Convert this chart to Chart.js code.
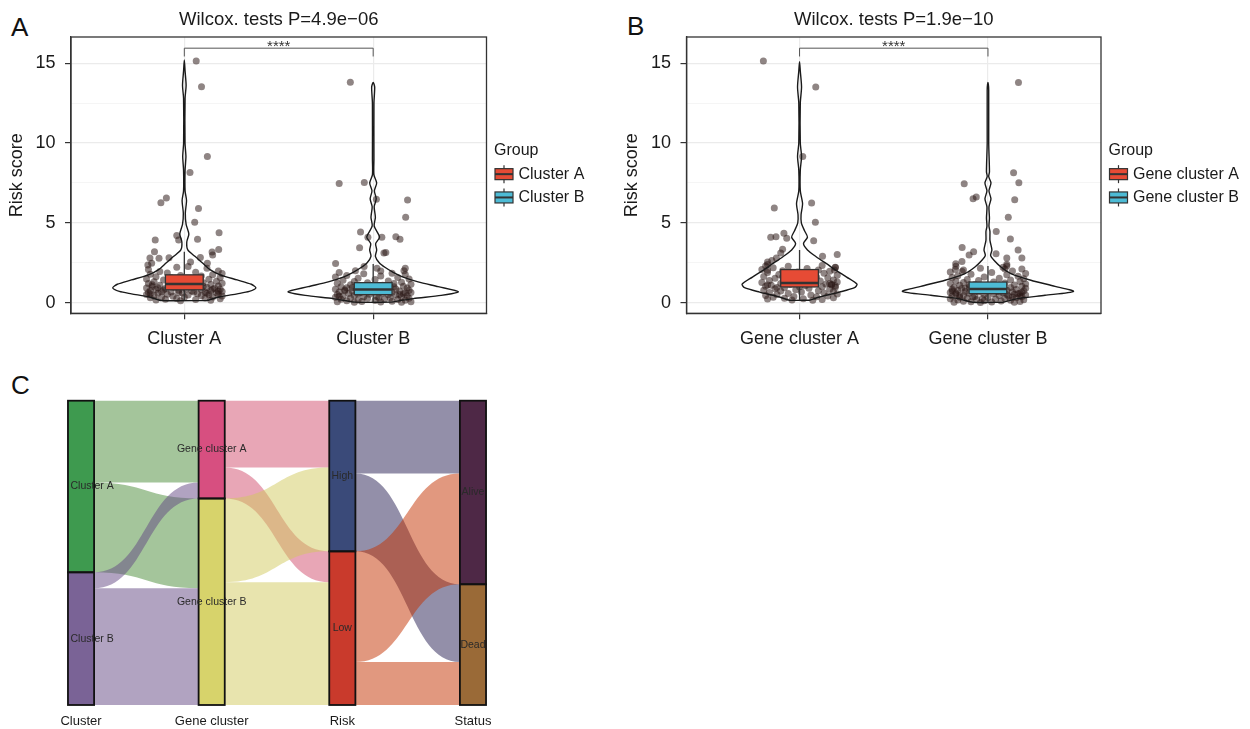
<!DOCTYPE html>
<html lang="en">
<head>
<meta charset="utf-8">
<title>Risk score by cluster and alluvial plot</title>
<script src="https://cdn.jsdelivr.net/npm/chart.js@4.4.1/dist/chart.umd.min.js"></script>
<style>
  body { margin: 0; background: #fff; width: 1250px; height: 729px; position: relative; overflow: hidden;
         font-family: "Liberation Sans", Arial, sans-serif; }
  .panel { position: absolute; }
  .tag { position: absolute; font-size: 26px; line-height: 1; color: #111; }
</style>
</head>
<body>
<div class="tag" style="left:11px;top:14px">A</div>
<div class="tag" style="left:627px;top:13px">B</div>
<div class="tag" style="left:11px;top:372px">C</div>
<div class="panel" style="left:0;top:0"><canvas id="chartA" width="600" height="360" style="width:600px;height:360px"></canvas></div>
<div class="panel" style="left:615px;top:0"><canvas id="chartB" width="635" height="360" style="width:635px;height:360px"></canvas></div>
<div class="panel" style="left:0;top:380px"><canvas id="chartC" width="560" height="349" style="width:560px;height:349px"></canvas></div>
<script>
Chart.defaults.font.family = '"Liberation Sans", Arial, sans-serif';
Chart.defaults.color = '#1a1a1a';
Chart.defaults.animation = false;

// ---------- panels A and B : risk score ----------
const clusterGroups = ['Cluster A', 'Cluster B'];
const geneGroups = ['Gene cluster A', 'Gene cluster B'];
const groupColors = ['#E64B35', '#4DBBD5'];
const yTickValues = [0, 2.5, 5, 7.5, 10, 12.5, 15];

// boxplot: [lower whisker, Q1, median, Q3, upper whisker]
const boxClusterA = [0.15, 0.8, 1.17, 1.74, 3.18];
const boxClusterB = [0.02, 0.5, 0.82, 1.25, 2.42];
const boxGeneA = [0.15, 0.98, 1.23, 2.07, 3.3];
const boxGeneB = [0.01, 0.56, 0.85, 1.29, 2.3];

// significance bracket: [tick end, bracket height]
const bracketA = [15.42, 15.94];
const bracketB = [15.42, 15.94];

// violin outline, top to bottom: [risk score, half width]
const violinClusterA = [[15.2,0],[14.5,0.004],[13.6,0.0095],[12.8,0.004],[10,0.0037],[9.15,0.0085],[8.3,0.004],[7,0.004],[6.4,0.0117],[5.6,0.0053],[4.9,0.0095],[4.3,0.024],[3.8,0.013],[3.3,0.0185],[2.9,0.056],[2.5,0.095],[2.05,0.138],[1.74,0.19],[1.42,0.28],[1.15,0.355],[0.92,0.379],[0.7,0.344],[0.55,0.28],[0.35,0.185],[0.13,0.12]];
const violinClusterB = [[13.8,0],[13.5,0.008],[12.5,0.004],[9,0.004],[8,0.004],[7.5,0.0185],[7,0.0064],[6.5,0.016],[6,0.0053],[5.35,0.0117],[4.8,0.0053],[4.1,0.034],[3.7,0.013],[3.3,0.0185],[2.9,0.0117],[2.5,0.032],[2.2,0.064],[1.9,0.106],[1.6,0.159],[1.3,0.238],[1.0,0.344],[0.68,0.451],[0.45,0.36],[0.25,0.212],[0.03,0.095]];
const violinGeneA = [[15.1,0],[14.5,0.004],[13.5,0.0106],[12.5,0.004],[10,0.004],[9.16,0.0106],[8.3,0.004],[7,0.004],[6.2,0.016],[5.5,0.008],[5,0.0095],[4.5,0.0265],[4.1,0.042],[3.7,0.021],[3.3,0.042],[2.86,0.09],[2.44,0.143],[2.0,0.196],[1.6,0.25],[1.15,0.305],[0.94,0.292],[0.66,0.212],[0.35,0.106],[0.15,0.053]];
const violinGeneB = [[13.8,0],[13.3,0.004],[10,0.004],[8.2,0.008],[7.9,0.004],[7.5,0.016],[7,0.0053],[6.5,0.016],[6,0.0053],[5.3,0.008],[4.8,0.0053],[4.45,0.0106],[3.9,0.0106],[3.3,0.021],[2.96,0.014],[2.65,0.032],[2.23,0.069],[1.82,0.122],[1.4,0.228],[1.02,0.356],[0.7,0.454],[0.46,0.303],[0.25,0.159],[0.02,0.08]];

// jittered samples: [x offset from group centre, risk score]
const jitterClusterA = [[0.063,15.14],[0.091,13.53],[0.122,9.15],[0.03,8.15],[-0.095,6.56],[-0.124,6.25],[0.075,5.89],[0.055,5.04],[0.184,4.37],[-0.04,4.2],[-0.154,3.93],[-0.03,3.92],[0.07,3.97],[0.182,3.33],[0.147,3.17],[-0.158,3.18],[0.085,2.82],[-0.182,2.8],[-0.134,2.78],[-0.081,2.81],[0.033,2.55],[0.122,2.47],[-0.193,2.36],[-0.173,2.46],[0.02,2.26],[0.15,2.98],
  [-0.19,2.08],[-0.04,2.22],[0.12,2.15],[0.18,1.98],[-0.13,1.95],[0.06,1.9],[-0.09,1.86],[0.2,1.82],[-0.18,1.78],[0.15,1.74],[-0.02,1.7],[0.09,1.66],[-0.15,1.62],[0.19,1.58],[-0.07,1.55],[0.03,1.5],
  [-0.2,1.48],[0.13,1.46],[-0.11,1.42],[0.07,1.38],[0.17,1.34],[-0.16,1.31],[-0.04,1.28],[0.1,1.25],[0.2,1.22],[-0.19,1.19],[-0.08,1.16],[0.14,1.13],[0.02,1.1],[-0.13,1.08],[0.18,1.04],[-0.17,1.01],
  [0.06,0.99],[-0.05,0.96],[0.12,0.94],[-0.2,0.92],[0.16,0.9],[-0.1,0.88],[0.01,0.86],[0.19,0.84],[-0.15,0.82],[0.09,0.8],[-0.03,0.78],[-0.18,0.76],[0.14,0.74],[0.04,0.72],[-0.12,0.7],[0.2,0.69],
  [-0.07,0.67],[0.11,0.65],[-0.19,0.63],[0.17,0.61],[-0.01,0.6],[-0.14,0.58],[0.07,0.56],[0.18,0.54],[-0.09,0.52],[-0.2,0.5],[0.13,0.49],[0.02,0.47],[-0.16,0.45],[0.09,0.43],[0.2,0.41],[-0.06,0.4],
  [-0.12,0.37],[0.15,0.35],[0.0,0.33],[-0.18,0.31],[0.11,0.29],[-0.04,0.26],[0.19,0.24],[-0.1,0.21],[0.06,0.19],[-0.15,0.16],[0.14,0.14],[-0.02,0.12],
  [-0.17,1.12],[0.08,1.06],[-0.06,0.97],[0.15,0.83],[-0.11,0.79],[0.05,0.66],[-0.18,0.55],[0.12,0.58],[-0.03,0.63],[0.18,0.71],[-0.14,0.93],[0.1,1.02]];
const jitterClusterB = [[-0.121,13.81],[-0.18,7.46],[-0.047,7.52],[0.017,6.48],[0.182,6.43],[0.172,5.34],[-0.067,4.43],[0.12,4.12],[0.142,3.97],[-0.028,4.1],[0.046,4.1],[-0.072,3.44],[0.057,3.1],[0.067,3.14],[-0.199,2.45],[0.163,2.0],[0.17,2.15],[-0.094,2.0],[-0.048,2.26],[0.02,2.15],[0.04,1.98],
  [-0.18,1.88],[0.1,1.84],[-0.05,1.8],[0.17,1.76],[-0.14,1.7],[0.04,1.66],[-0.2,1.6],[0.13,1.57],[-0.08,1.52],[0.19,1.48],[0.01,1.44],[-0.16,1.4],[0.08,1.36],[-0.1,1.32],[0.15,1.28],[-0.03,1.25],
  [-0.19,1.22],[0.11,1.19],[0.2,1.15],[-0.12,1.12],[0.05,1.09],[-0.06,1.06],[0.16,1.03],[-0.17,1.0],[0.09,0.98],[-0.01,0.95],[-0.14,0.93],[0.18,0.91],[0.03,0.89],[-0.09,0.87],[0.12,0.85],[-0.2,0.83],
  [0.07,0.81],[-0.04,0.79],[0.19,0.77],[-0.15,0.75],[0.14,0.73],[-0.11,0.71],[0.0,0.69],[-0.18,0.67],[0.1,0.65],[0.2,0.63],[-0.07,0.61],[0.05,0.59],[-0.13,0.57],[0.16,0.55],[-0.02,0.53],[-0.19,0.51],
  [0.08,0.49],[0.12,0.47],[-0.1,0.45],[0.18,0.43],[-0.16,0.41],[0.02,0.39],[-0.05,0.37],[0.15,0.35],[-0.2,0.33],[0.09,0.31],[-0.12,0.29],[0.19,0.27],[-0.03,0.25],[0.06,0.23],[-0.17,0.21],[0.13,0.19],
  [-0.08,0.17],[0.17,0.15],[0.01,0.13],[-0.14,0.11],[0.1,0.09],[-0.06,0.07],[0.2,0.06],[-0.19,0.05],[0.04,0.04],[0.15,0.03],[-0.1,0.02],
  [-0.15,0.8],[0.07,0.72],[-0.02,0.9],[0.17,0.62],[-0.08,0.55],[0.11,1.0],[-0.18,0.4],[0.14,0.5],[-0.11,0.95],[0.03,0.3]];
const jitterGeneA = [[-0.192,15.13],[0.086,13.5],[0.017,9.16],[-0.134,5.92],[0.064,6.24],[0.084,5.03],[-0.153,4.09],[-0.125,4.12],[-0.083,4.35],[-0.068,4.03],[0.075,3.88],[-0.09,3.35],[-0.1,3.1],[0.122,2.91],[0.2,3.01],[-0.123,2.8],[-0.147,2.64],[-0.17,2.55],[-0.18,2.29],[0.19,2.2],[0.185,2.05],[-0.17,2.03],
  [-0.17,2.38],[0.12,2.33],[-0.06,2.28],[0.19,2.22],[-0.14,2.18],[0.04,2.14],[-0.2,2.08],[0.1,2.04],[-0.09,2.0],[0.16,1.96],[-0.01,1.92],[-0.17,1.88],[0.13,1.84],[0.06,1.8],[-0.11,1.76],[0.2,1.72],
  [-0.04,1.68],[-0.19,1.64],[0.09,1.6],[0.15,1.56],[-0.13,1.52],[0.02,1.48],[-0.07,1.44],[0.18,1.41],[-0.16,1.38],[0.11,1.35],[-0.02,1.32],[0.2,1.29],[-0.2,1.26],[0.07,1.23],[-0.1,1.2],[0.14,1.17],
  [-0.05,1.14],[0.17,1.11],[-0.15,1.08],[0.03,1.05],[-0.18,1.02],[0.12,0.99],[0.19,0.96],[-0.08,0.93],[0.05,0.9],[-0.13,0.87],[0.16,0.84],[-0.02,0.81],[-0.19,0.78],[0.1,0.75],[-0.1,0.72],[0.18,0.69],
  [0.01,0.66],[-0.16,0.63],[0.13,0.6],[-0.06,0.57],[0.2,0.54],[-0.12,0.51],[0.06,0.48],[-0.18,0.45],[0.15,0.42],[-0.03,0.39],[0.09,0.36],[-0.14,0.33],[0.18,0.3],[-0.08,0.27],[0.02,0.24],[-0.17,0.22],
  [0.12,0.2],[-0.04,0.17],[0.07,0.15],
  [0.17,1.15],[0.19,1.05],[0.16,1.2],[-0.17,1.1],[-0.12,0.95],[0.0,1.0],[0.08,1.3],[-0.09,1.6]];
const jitterGeneB = [[0.162,13.79],[0.136,8.14],[0.164,7.51],[-0.126,7.45],[-0.079,6.51],[-0.062,6.61],[0.142,6.45],[0.108,5.34],[0.044,4.46],[0.119,3.98],[-0.137,3.46],[-0.076,3.18],[0.16,3.3],[0.18,2.8],[0.1,2.8],[-0.1,2.98],[0.043,3.06],[-0.171,2.44],[-0.138,2.58],[0.1,2.3],[-0.173,2.08],[0.09,2.1],[0.1,2.4],[-0.137,1.95],
  [-0.17,2.28],[0.08,2.22],[-0.04,2.15],[0.18,2.1],[-0.13,2.04],[0.13,1.98],[-0.2,1.92],[0.02,1.88],[0.2,1.83],[-0.09,1.78],[0.1,1.74],[-0.16,1.69],[0.16,1.65],[-0.02,1.61],[-0.19,1.57],[0.06,1.53],
  [0.19,1.49],[-0.11,1.45],[0.12,1.41],[-0.05,1.38],[-0.17,1.35],[0.17,1.32],[0.03,1.29],[-0.13,1.26],[0.09,1.23],[-0.2,1.2],[0.2,1.17],[-0.07,1.14],[0.14,1.11],[-0.15,1.08],[0.0,1.06],[0.18,1.03],
  [-0.1,1.0],[0.07,0.98],[-0.18,0.96],[0.12,0.94],[-0.03,0.92],[0.2,0.9],[-0.14,0.88],[0.04,0.86],[-0.19,0.84],[0.15,0.82],[-0.08,0.8],[0.1,0.78],[-0.16,0.76],[0.19,0.74],[0.01,0.72],[-0.12,0.7],
  [0.13,0.68],[-0.05,0.66],[-0.2,0.64],[0.08,0.62],[0.17,0.6],[-0.1,0.58],[0.03,0.56],[-0.17,0.54],[0.14,0.52],[-0.02,0.5],[0.2,0.48],[-0.13,0.46],[0.06,0.44],[-0.19,0.42],[0.11,0.4],[-0.07,0.38],
  [0.18,0.36],[-0.15,0.34],[0.0,0.32],[0.15,0.3],[-0.11,0.28],[0.09,0.26],[-0.2,0.24],[0.04,0.22],[-0.06,0.2],[0.19,0.18],[-0.16,0.16],[0.12,0.14],[-0.02,0.12],[0.07,0.1],[-0.13,0.08],[0.17,0.07],
  [-0.09,0.05],[0.02,0.04],[-0.18,0.03],[0.14,0.02],[-0.04,0.01],
  [-0.17,0.6],[-0.15,0.45],[-0.12,0.9],[0.16,0.55],[0.18,0.65],[0.05,0.7],[-0.08,0.35],[0.1,0.5],[-0.19,0.75],[0.02,0.95],[0.13,0.35],[-0.1,1.12],[0.17,0.42],[-0.03,0.25]];

// ---------- panel C : alluvial ----------
const axisNames = ['Cluster', 'Gene cluster', 'Risk', 'Status'];
const stratumNames = [['Cluster A', 'Cluster B'], ['Gene cluster A', 'Gene cluster B'], ['High', 'Low'], ['Alive', 'Dead']];
// patients between neighbouring axes: rows = left strata, columns = right strata
const flowClusterToGene = [[82, 90], [16, 117]];
const flowGeneToRisk = [[67, 31], [84, 123]];
const flowRiskToStatus = [[73, 78], [111, 43]];
const stratumColors = [['#3e9a4f', '#7a6396'], ['#d74f80', '#d7d36b'], ['#3a4a79', '#c93a2c'], ['#4e2846', '#9a6a37']];
const flowColors = [['rgba(73,139,55,0.5)', 'rgba(99,71,131,0.5)'],
                    ['rgba(209,77,109,0.5)', 'rgba(209,201,93,0.5)'],
                    ['rgba(39,31,83,0.5)', 'rgba(195,49,0,0.5)']];

const FONT = '"Liberation Sans", Arial, sans-serif';

function violinPanel(canvasId, cfg) {
  const datasets = [];
  cfg.jitter.forEach((pts, g) => {
    datasets.push({
      data: pts.map(p => ({x: g + 1 + p[0], y: p[1]})),
      pointRadius: 3.5,
      pointBackgroundColor: 'rgba(40,22,20,0.52)',
      pointBorderWidth: 0,
      order: 2
    });
  });
  cfg.violins.forEach((prof, g) => {
    const c = g + 1;
    const right = prof.slice().reverse().map(p => ({x: c + p[1], y: p[0]}));
    const left = prof.slice(1).map(p => ({x: c - p[1], y: p[0]}));
    const outline = right.concat(left, [right[0]]);
    datasets.push({
      data: outline,
      showLine: true,
      borderColor: '#1a1a1a',
      borderWidth: 1.4,
      pointRadius: 0,
      tension: 0.25,
      fill: false,
      order: 1
    });
  });

  const boxes = {
    id: 'boxes',
    afterDatasetsDraw(chart) {
      const {ctx, scales: {x, y}} = chart;
      cfg.boxes.forEach((s, g) => {
        const c = g + 1;
        const xl = x.getPixelForValue(c - 0.1), xr = x.getPixelForValue(c + 0.1), xc = x.getPixelForValue(c);
        const top = y.getPixelForValue(s[3]), bot = y.getPixelForValue(s[1]);
        ctx.save();
        ctx.strokeStyle = '#333';
        ctx.lineWidth = 1.3;
        ctx.beginPath();
        ctx.moveTo(xc, y.getPixelForValue(s[0])); ctx.lineTo(xc, bot);
        ctx.moveTo(xc, top); ctx.lineTo(xc, y.getPixelForValue(s[4]));
        ctx.stroke();
        ctx.fillStyle = groupColors[g];
        ctx.fillRect(xl, top, xr - xl, bot - top);
        ctx.strokeRect(xl, top, xr - xl, bot - top);
        ctx.lineWidth = 2.4;
        ctx.beginPath();
        ctx.moveTo(xl, y.getPixelForValue(s[2])); ctx.lineTo(xr, y.getPixelForValue(s[2]));
        ctx.stroke();
        ctx.restore();
      });
      // significance bracket
      const x1 = x.getPixelForValue(1), x2 = x.getPixelForValue(2);
      const yb = y.getPixelForValue(cfg.bracket[1]), yt = y.getPixelForValue(cfg.bracket[0]);
      ctx.save();
      ctx.strokeStyle = '#555';
      ctx.lineWidth = 1;
      ctx.beginPath();
      ctx.moveTo(x1, yt); ctx.lineTo(x1, yb); ctx.lineTo(x2, yb); ctx.lineTo(x2, yt);
      ctx.stroke();
      ctx.fillStyle = '#333';
      ctx.font = '15px ' + FONT;
      ctx.textAlign = 'center';
      ctx.textBaseline = 'alphabetic';
      ctx.fillText('****', (x1 + x2) / 2, yb + 3);
      ctx.restore();
    },
    afterDraw(chart) {
      const {ctx, chartArea: a} = chart;
      ctx.save();
      ctx.strokeStyle = '#333';
      ctx.lineWidth = 1.3;
      ctx.strokeRect(a.left, a.top, a.right - a.left, a.bottom - a.top);
      // group key
      const x0 = a.right + 8;
      const yc = (a.top + a.bottom) / 2;
      ctx.font = '16px ' + FONT;
      ctx.textBaseline = 'middle';
      ctx.textAlign = 'left';
      ctx.fillStyle = '#1a1a1a';
      ctx.fillText('Group', x0 - 0.5, yc - 25);
      cfg.groups.forEach((name, i) => {
        const ky = yc - 1 + i * 23.3;
        ctx.strokeStyle = '#333';
        ctx.lineWidth = 1.2;
        ctx.beginPath(); ctx.moveTo(x0 + 9.5, ky - 9); ctx.lineTo(x0 + 9.5, ky + 9); ctx.stroke();
        ctx.fillStyle = groupColors[i];
        ctx.fillRect(x0 + 0.5, ky - 5.5, 18, 11);
        ctx.strokeRect(x0 + 0.5, ky - 5.5, 18, 11);
        ctx.lineWidth = 2;
        ctx.beginPath(); ctx.moveTo(x0 + 0.5, ky); ctx.lineTo(x0 + 18.5, ky); ctx.stroke();
        ctx.fillStyle = '#1a1a1a';
        ctx.fillText(name, x0 + 24, ky + 0.5);
      });
      ctx.restore();
    }
  };

  const isMajor = c => c.tick && c.tick.value % 5 === 0;

  return new Chart(document.getElementById(canvasId), {
    type: 'scatter',
    data: {datasets},
    options: {
      responsive: false,
      devicePixelRatio: 1,
      layout: {padding: {left: 0, right: cfg.padRight, top: 0, bottom: 0}},
      plugins: {
        legend: {display: false},
        tooltip: {enabled: false},
        title: {
          display: true, text: cfg.title, fullSize: false, color: '#1a1a1a',
          font: {size: 18.5, weight: 'normal'}, padding: {top: 9, bottom: 5.8}
        }
      },
      scales: {
        x: {
          type: 'linear', min: 0.4, max: 2.6,
          afterBuildTicks: axis => { axis.ticks = [1, 2].map(v => ({value: v})); },
          afterFit: axis => { axis.height = 46.7; },
          ticks: {callback: v => cfg.groups[v - 1], font: {size: 18}, color: '#1a1a1a', padding: 8.5, autoSkip: false, maxRotation: 0},
          grid: {color: '#ebebeb', lineWidth: 1.2, tickLength: 6, tickColor: '#333', tickWidth: 1.2},
          border: {color: '#333', width: 1.3}
        },
        y: {
          min: -0.67, max: 16.64,
          afterBuildTicks: axis => { axis.ticks = yTickValues.map(v => ({value: v})); },
          afterFit: axis => { axis.width = cfg.axisWidth; },
          ticks: {callback: v => (v % 5 === 0 ? String(v) : ''), font: {size: 18}, color: '#1a1a1a', padding: 9.5},
          grid: {
            color: c => (isMajor(c) ? '#ebebeb' : '#f3f3f3'),
            lineWidth: c => (isMajor(c) ? 1.2 : 0.8),
            tickColor: c => (isMajor(c) ? '#333' : 'rgba(0,0,0,0)'),
            tickLength: 6, tickWidth: 1.2
          },
          border: {color: '#333', width: 1.3},
          title: {display: true, text: 'Risk score', font: {size: 18}, color: '#1a1a1a', padding: {top: 6, bottom: 0}}
        }
      }
    },
    plugins: [boxes]
  });
}

violinPanel('chartA', {
  title: 'Wilcox. tests P=4.9e\u221206',
  groups: clusterGroups,
  jitter: [jitterClusterA, jitterClusterB],
  violins: [violinClusterA, violinClusterB],
  boxes: [boxClusterA, boxClusterB],
  bracket: bracketA,
  axisWidth: 71,
  padRight: 113.5
});

violinPanel('chartB', {
  title: 'Wilcox. tests P=1.9e\u221210',
  groups: geneGroups,
  jitter: [jitterGeneA, jitterGeneB],
  violins: [violinGeneA, violinGeneB],
  boxes: [boxGeneA, boxGeneB],
  bracket: bracketB,
  axisWidth: 71.5,
  padRight: 149
});

// ---------- alluvial ----------
const flows = [flowClusterToGene, flowGeneToRisk, flowRiskToStatus];
const strataSizes = axisNames.map((_, a) => a === 0
  ? flows[0].map(r => r[0] + r[1])
  : [0, 1].map(j => flows[a - 1][0][j] + flows[a - 1][1][j]));
const totalPatients = strataSizes[0][0] + strataSizes[0][1];

const alluvia = {
  id: 'alluvia',
  beforeDatasetsDraw(chart) {
    const {ctx, scales: {x, y}} = chart;
    const half = chart.getDatasetMeta(0).data[0].width / 2;
    ctx.save();
    flows.forEach((m, a) => {
      const x0 = x.getPixelForValue(a) + half, x1 = x.getPixelForValue(a + 1) - half, xm = (x0 + x1) / 2;
      const srcStart = [0, strataSizes[a][0]], dstStart = [0, strataSizes[a + 1][0]];
      const srcOff = [0, 0], dstOff = [0, 0];
      for (let i = 0; i < 2; i++) {
        for (let j = 0; j < 2; j++) {
          const v = m[i][j];
          const l = srcStart[i] + srcOff[i], r = dstStart[j] + dstOff[j];
          srcOff[i] += v; dstOff[j] += v;
          const yl0 = y.getPixelForValue(l), yl1 = y.getPixelForValue(l + v);
          const yr0 = y.getPixelForValue(r), yr1 = y.getPixelForValue(r + v);
          ctx.beginPath();
          ctx.moveTo(x0, yl0);
          ctx.bezierCurveTo(xm, yl0, xm, yr0, x1, yr0);
          ctx.lineTo(x1, yr1);
          ctx.bezierCurveTo(xm, yr1, xm, yl1, x0, yl1);
          ctx.closePath();
          ctx.fillStyle = flowColors[a][i];
          ctx.fill();
        }
      }
    });
    ctx.restore();
  },
  afterDatasetsDraw(chart) {
    const {ctx, scales: {x, y}} = chart;
    const half = chart.getDatasetMeta(0).data[0].width / 2;
    ctx.save();
    // stratum outlines
    ctx.strokeStyle = '#111';
    ctx.lineWidth = 1.8;
    chart.data.datasets.forEach((ds, d) => {
      chart.getDatasetMeta(d).data.forEach(el => {
        const p = el.getProps(['x', 'y', 'base', 'width'], true);
        ctx.strokeRect(p.x - p.width / 2, Math.min(p.y, p.base), p.width, Math.abs(p.base - p.y));
      });
    });
    ctx.font = '10.5px ' + FONT;
    ctx.fillStyle = '#2a2a2a';
    ctx.textBaseline = 'middle';
    stratumNames.forEach((names, a) => {
      let start = 0;
      names.forEach((name, s) => {
        const size = strataSizes[a][s];
        const yc = y.getPixelForValue(start + size / 2);
        start += size;
        if (a === 0) {
          ctx.textAlign = 'left';
          ctx.fillText(name, x.getPixelForValue(a) - half + 2.5, yc);
        } else {
          ctx.textAlign = 'center';
          ctx.fillText(name, x.getPixelForValue(a), yc);
        }
      });
    });
    ctx.restore();
  }
};

new Chart(document.getElementById('chartC'), {
  type: 'bar',
  data: {
    labels: axisNames,
    datasets: [0, 1].map(s => ({
      label: 'stratum ' + (s + 1),
      data: strataSizes.map(sz => sz[s]),
      backgroundColor: stratumColors.map(c => c[s]),
      borderWidth: 0,
      barPercentage: 0.2,
      categoryPercentage: 1
    }))
  },
  options: {
    responsive: false,
    devicePixelRatio: 1,
    layout: {padding: {left: 15.7, right: 21.7, top: 20.7, bottom: 0}},
    plugins: {legend: {display: false}, tooltip: {enabled: false}},
    scales: {
      x: {
        stacked: true,
        afterFit: axis => { axis.height = 24; },
        grid: {display: false, drawTicks: false},
        border: {display: false},
        ticks: {font: {size: 13}, color: '#1a1a1a', padding: 8.5}
      },
      y: {stacked: true, display: false, reverse: true, min: 0, max: totalPatients}
    }
  },
  plugins: [alluvia]
});
</script>
</body>
</html>
